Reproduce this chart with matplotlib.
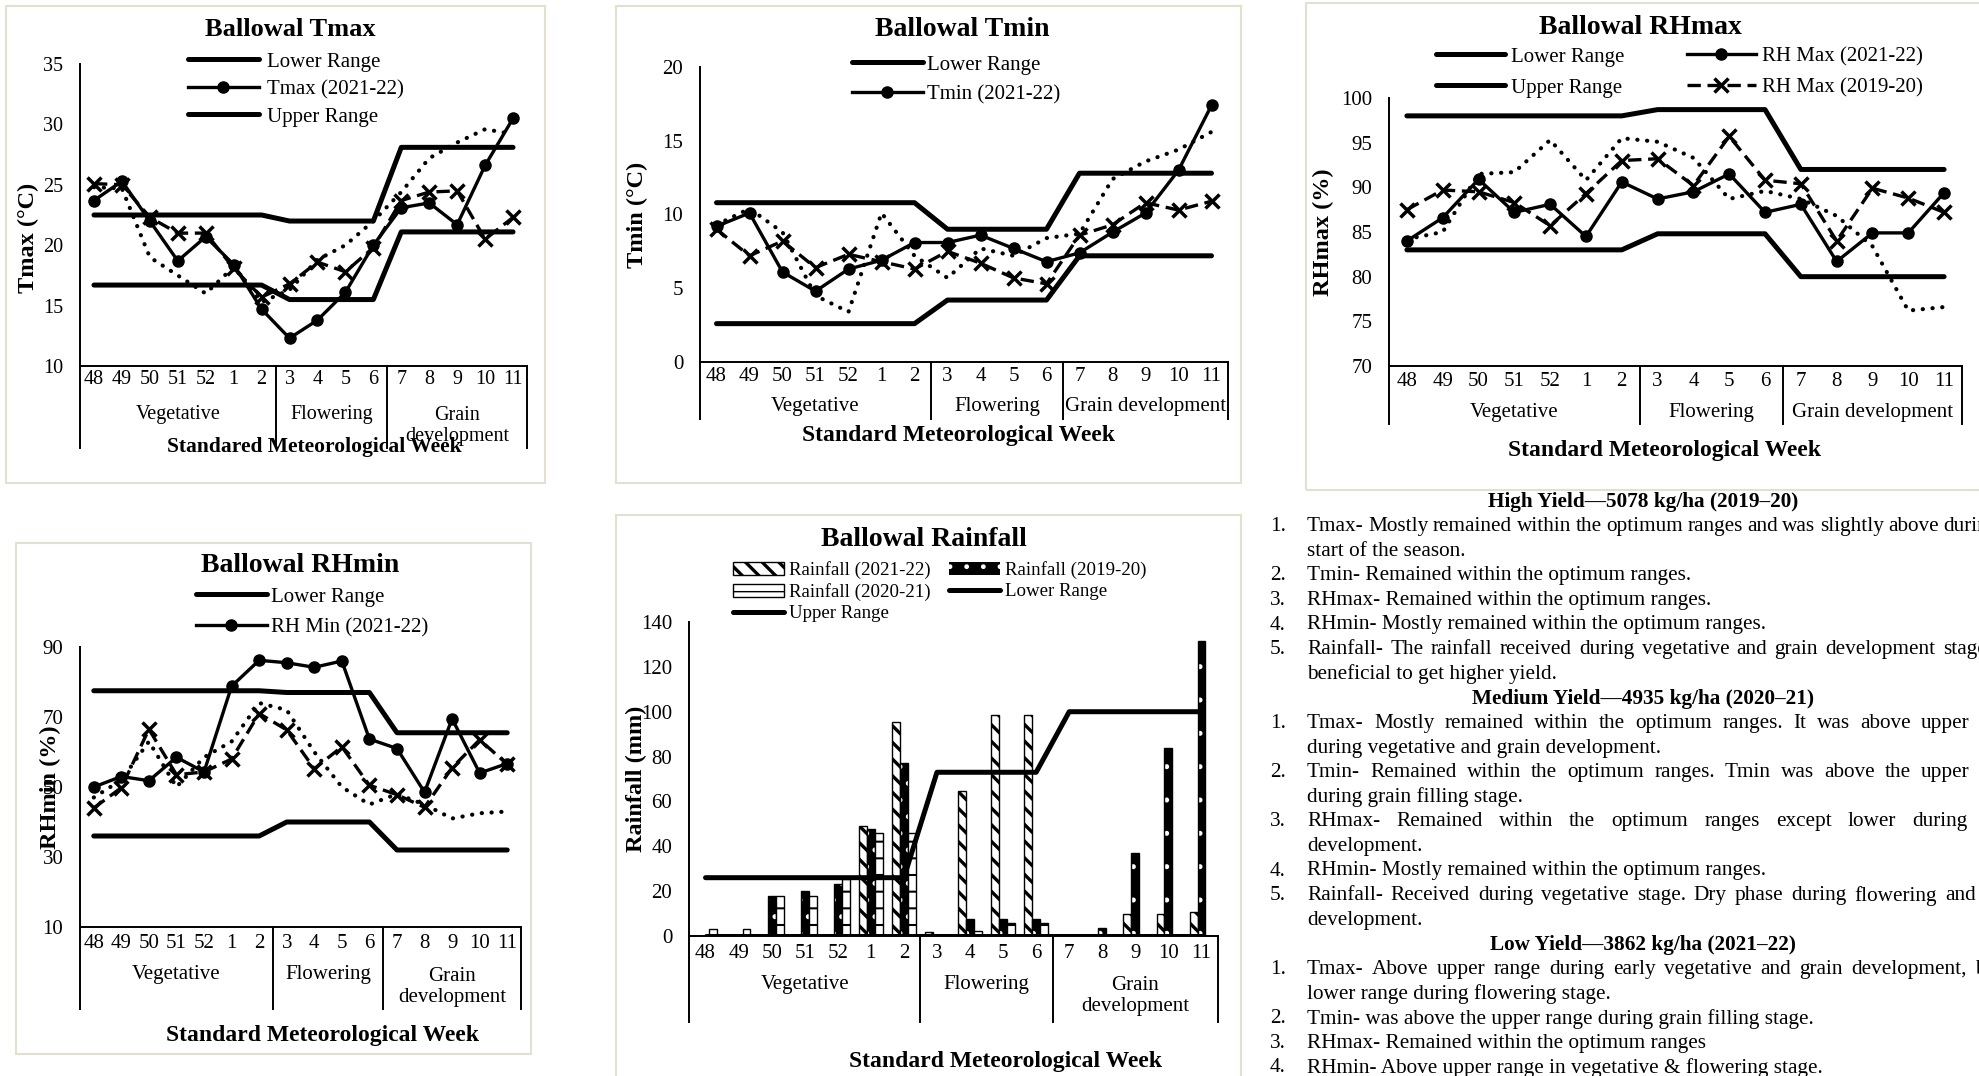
import matplotlib
matplotlib.use('Agg')
import matplotlib.pyplot as plt
from matplotlib.patches import Rectangle
import numpy as np

plt.rcParams['font.family'] = ['Liberation Serif', 'DejaVu Serif']
plt.rcParams['hatch.linewidth'] = 2.4

W, H = 1979, 1076

# ---------------- data ----------------
weeks = ['48', '49', '50', '51', '52', '1', '2', '3', '4', '5', '6', '7', '8', '9', '10', '11']
stages = ['Vegetative', 'Flowering', 'Grain development']
stage_spans = [(0, 6), (7, 10), (11, 15)]

tmax_2122 = [23.7, 25.3, 22.0, 18.7, 20.7, 18.4, 14.7, 12.3, 13.8, 16.1, 20.0, 23.1, 23.5, 21.7, 26.6, 30.5]
tmax_1920 = [25.1, 25.0, 22.3, 21.0, 21.0, 18.1, 15.7, 16.8, 18.6, 17.8, 19.8, 23.7, 24.4, 24.5, 20.5, 22.3]
tmax_2021 = [24.8, 24.7, 19.0, 17.5, 16.0, 18.2, 15.3, 16.3, 18.8, 20.0, 22.0, 24.4, 27.2, 28.5, 29.6, 29.2]
tmax_lower = [16.7, 16.7, 16.7, 16.7, 16.7, 16.7, 16.7, 15.5, 15.5, 15.5, 15.5, 21.1, 21.1, 21.1, 21.1, 21.1]
tmax_upper = [22.5, 22.5, 22.5, 22.5, 22.5, 22.5, 22.5, 22.0, 22.0, 22.0, 22.0, 28.1, 28.1, 28.1, 28.1, 28.1]

tmin_2122 = [9.2, 10.1, 6.1, 4.8, 6.3, 6.9, 8.1, 8.1, 8.6, 7.7, 6.8, 7.4, 8.8, 10.1, 13.0, 17.4]
tmin_1920 = [9.0, 7.2, 8.2, 6.4, 7.3, 6.8, 6.3, 7.5, 6.7, 5.7, 5.3, 8.6, 9.3, 10.8, 10.3, 10.9]
tmin_2021 = [9.3, 10.4, 8.8, 4.5, 3.4, 10.1, 7.2, 5.7, 7.7, 7.2, 8.4, 8.7, 12.4, 13.6, 14.4, 15.6]
tmin_lower = [2.6, 2.6, 2.6, 2.6, 2.6, 2.6, 2.6, 4.2, 4.2, 4.2, 4.2, 7.2, 7.2, 7.2, 7.2, 7.2]
tmin_upper = [10.8, 10.8, 10.8, 10.8, 10.8, 10.8, 10.8, 9.0, 9.0, 9.0, 9.0, 12.8, 12.8, 12.8, 12.8, 12.8]

rhmax_2122 = [84.0, 86.6, 90.9, 87.2, 88.1, 84.5, 90.6, 88.7, 89.5, 91.5, 87.2, 88.1, 81.7, 84.9, 84.9, 89.4]
rhmax_1920 = [87.5, 89.7, 89.5, 88.3, 85.7, 89.3, 93.0, 93.2, 90.2, 95.7, 90.8, 90.4, 84.0, 89.9, 88.8, 87.2]
rhmax_2021 = [84.2, 85.0, 91.5, 91.7, 95.3, 90.8, 95.5, 95.1, 93.3, 88.7, 89.6, 88.7, 86.8, 83.4, 76.2, 76.6]
rhmax_lower = [83.0, 83.0, 83.0, 83.0, 83.0, 83.0, 83.0, 84.8, 84.8, 84.8, 84.8, 80.0, 80.0, 80.0, 80.0, 80.0]
rhmax_upper = [98.0, 98.0, 98.0, 98.0, 98.0, 98.0, 98.0, 98.7, 98.7, 98.7, 98.7, 92.0, 92.0, 92.0, 92.0, 92.0]

rhmin_2122 = [50.0, 53.0, 51.8, 58.5, 54.3, 78.8, 86.2, 85.5, 84.2, 86.0, 63.7, 61.0, 48.5, 69.5, 54.0, 56.7]
rhmin_1920 = [44.0, 49.8, 66.5, 53.5, 54.3, 58.0, 71.0, 66.3, 55.2, 61.5, 50.5, 47.8, 44.2, 55.5, 63.5, 56.5]
rhmin_2021 = [47.0, 52.0, 63.0, 50.0, 58.5, 63.0, 74.0, 72.0, 60.0, 50.0, 45.0, 48.0, 45.0, 41.0, 42.5, 43.0]
rhmin_lower = [36.0, 36.0, 36.0, 36.0, 36.0, 36.0, 36.0, 40.0, 40.0, 40.0, 40.0, 32.0, 32.0, 32.0, 32.0, 32.0]
rhmin_upper = [77.5, 77.5, 77.5, 77.5, 77.5, 77.5, 77.5, 77.0, 77.0, 77.0, 77.0, 65.5, 65.5, 65.5, 65.5, 65.5]

rain_2122 = [0, 0, 0, 0, 0, 49.0, 95.3, 2.0, 64.7, 98.6, 98.6, 0, 0, 10.0, 10.0, 10.5]
rain_1920 = [0, 0, 17.7, 20.1, 23.3, 47.8, 77.2, 0, 7.6, 7.6, 7.6, 0, 3.5, 37.0, 83.7, 131.5]
rain_2021 = [3.2, 3.2, 17.7, 17.7, 25.3, 45.9, 45.9, 0, 2.4, 6.0, 6.0, 0, 0, 0, 0, 0]
rain_lower = [0, 0, 0, 0, 0, 0, 0, 0, 0, 0, 0, 0, 0, 0, 0, 0]
rain_upper = [26, 26, 26, 26, 26, 26, 26, 73, 73, 73, 73, 100, 100, 100, 100, 100]

notes = [
    (None, 'High Yield\u20145078 kg/ha (2019\u201320)', False),
    ('1.', 'Tmax- Mostly remained within the optimum ranges and was slightly above during the', True),
    ('', 'start of the season.', False),
    ('2.', 'Tmin- Remained within the optimum ranges.', False),
    ('3.', 'RHmax- Remained within the optimum ranges.', False),
    ('4.', 'RHmin- Mostly remained within the optimum ranges.', False),
    ('5.', 'Rainfall- The rainfall received during vegetative and grain development stage was', True),
    ('', 'beneficial to get higher yield.', False),
    (None, 'Medium Yield\u20144935 kg/ha (2020\u201321)', False),
    ('1.', 'Tmax- Mostly remained within the optimum ranges. It was above upper range', True),
    ('', 'during vegetative and grain development.', False),
    ('2.', 'Tmin- Remained within the optimum ranges. Tmin was above the upper range', True),
    ('', 'during grain filling stage.', False),
    ('3.', 'RHmax- Remained within the optimum ranges except lower during grain', True),
    ('', 'development.', False),
    ('4.', 'RHmin- Mostly remained within the optimum ranges.', False),
    ('5.', 'Rainfall- Received during vegetative stage. Dry phase during flowering and grain', True),
    ('', 'development.', False),
    (None, 'Low Yield\u20143862 kg/ha (2021\u201322)', False),
    ('1.', 'Tmax- Above upper range during early vegetative and grain development, below', True),
    ('', 'lower range during flowering stage.', False),
    ('2.', 'Tmin- was above the upper range during grain filling stage.', False),
    ('3.', 'RHmax- Remained within the optimum ranges', False),
    ('4.', 'RHmin- Above upper range in vegetative & flowering stage.', False),
]

x = np.arange(len(weeks))
fig = plt.figure(figsize=(W / 100, H / 100), dpi=100)


def fx(px):
    return px / W


def fy(py):
    return 1 - py / H


def frame(l, t, r, b):
    fig.patches.append(Rectangle((fx(l), fy(b)), fx(r - l), (b - t) / H, transform=fig.transFigure,
                                 fill=False, edgecolor='#e4e0d0', lw=1.5))


def make_axes(l, t, r, b):
    return fig.add_axes([fx(l), fy(b), fx(r - l), (b - t) / H])


def thin_hatch(patches, lw):
    for p in patches:
        if hasattr(p, 'set_hatch_linewidth'):
            p.set_hatch_linewidth(lw)


def category_table(ax, ylim, yticks, ylabel, ylab_dx, wk_dy, st_dy, tb_dy, two_line, fs=15, ylab_y=0.5):
    ax.set_xlim(-0.5, 15.5)
    ax.set_ylim(*ylim)
    ax.set_yticks(yticks)
    ax.set_xticks([])
    ax.spines['top'].set_visible(False)
    ax.spines['right'].set_visible(False)
    ax.spines['left'].set_linewidth(1.4)
    ax.spines['bottom'].set_linewidth(1.4)
    ax.tick_params(axis='y', length=0, pad=12, labelsize=fs)
    ax.set_ylabel(ylabel, fontsize=17.5, fontweight='bold', va='center')
    ax.yaxis.set_label_coords(-ylab_dx / ax.bbox.width, ylab_y)
    h = ax.bbox.height
    tr = ax.get_xaxis_transform()
    for i, wk in enumerate(weeks):
        ax.text(i, -wk_dy / h, wk, transform=tr, ha='center', va='center', fontsize=fs)
    for name, (a, b) in zip(stages, stage_spans):
        if two_line and name.startswith('Grain'):
            ax.text((a + b) / 2, -(st_dy + 12) / h, 'Grain\ndevelopment', transform=tr, ha='center',
                    va='center', fontsize=fs, linespacing=1.2)
        else:
            ax.text((a + b) / 2, -st_dy / h, name, transform=tr, ha='center', va='center', fontsize=fs)
    for bnd in [-0.5, 6.5, 10.5, 15.5]:
        ax.plot([bnd, bnd], [0, -tb_dy / h], transform=tr, color='black', lw=1.4, clip_on=False)


def range_lines(ax, lower, upper):
    l1, = ax.plot(x, lower, color='black', lw=3.6, solid_capstyle='round', zorder=2)
    l2, = ax.plot(x, upper, color='black', lw=3.6, solid_capstyle='round', zorder=2)
    return l1, l2


def series(ax, s2122, s1920, s2021):
    ax.plot(x, s2021, color='black', lw=3, linestyle=(0, (0.05, 2.3)), dash_capstyle='round', zorder=3)
    l19, = ax.plot(x, s1920, color='black', lw=2.4, dashes=(4, 2), marker='x', markersize=10, mew=2.5, zorder=3)
    l21, = ax.plot(x, s2122, color='black', lw=2.4, marker='o', markersize=8, zorder=4)
    return l21, l19


leg_kw = dict(loc='upper left', bbox_transform=fig.transFigure, frameon=False, borderpad=0, borderaxespad=0)

# ---------------- Tmax ----------------
frame(6, 6, 545, 483)
ax1 = make_axes(80, 64, 527, 366)
lo, up = range_lines(ax1, tmax_lower, tmax_upper)
s, _ = series(ax1, tmax_2122, tmax_1920, tmax_2021)
category_table(ax1, (10, 35), [10, 15, 20, 25, 30, 35], 'Tmax (\u00b0C)', 52, 13, 48, 82, True, fs=14.5,
               ylab_y=0.425)
ax1.legend([lo, s, up], ['Lower Range', 'Tmax (2021-22)', 'Upper Range'], bbox_to_anchor=(fx(188), fy(52)),
           handlelength=3.4, handletextpad=0.4, labelspacing=0.38, fontsize=15, **leg_kw)
fig.text(fx(290), fy(30), 'Ballowal Tmax', ha='center', va='center', fontsize=19, fontweight='bold')
fig.text(fx(314), fy(447), 'Standared Meteorological Week', ha='center', va='center', fontsize=15.5,
         fontweight='bold')

# ---------------- Tmin ----------------
frame(616, 6, 1241, 483)
ax2 = make_axes(700, 67, 1228, 362)
lo, up = range_lines(ax2, tmin_lower, tmin_upper)
s, _ = series(ax2, tmin_2122, tmin_1920, tmin_2021)
category_table(ax2, (0, 20), [0, 5, 10, 15, 20], 'Tmin (\u00b0C)', 63, 15, 45, 57, False)
ax2.legend([lo, s], ['Lower Range', 'Tmin (2021-22)'], bbox_to_anchor=(fx(852), fy(55)),
           handlelength=3.4, handletextpad=0.2, labelspacing=0.5, fontsize=15, **leg_kw)
fig.text(fx(962), fy(30), 'Ballowal Tmin', ha='center', va='center', fontsize=20, fontweight='bold')
fig.text(fx(958), fy(436), 'Standard Meteorological Week', ha='center', va='center', fontsize=17,
         fontweight='bold')

# ---------------- RHmax ----------------
frame(1306, 3, 1990, 490)
ax3 = make_axes(1389, 98, 1962, 366)
lo, up = range_lines(ax3, rhmax_lower, rhmax_upper)
s21, s19 = series(ax3, rhmax_2122, rhmax_1920, rhmax_2021)
category_table(ax3, (70, 100), [70, 75, 80, 85, 90, 95, 100], 'RHmax (%)', 66, 15, 47, 58, False)
ax3.legend([lo, up, s21, s19], ['Lower Range', 'Upper Range', 'RH Max (2021-22)', 'RH Max (2019-20)'],
           ncol=2, bbox_to_anchor=(fx(1436), fy(47)), handlelength=3.3, handletextpad=0.3,
           labelspacing=0.55, columnspacing=3.0, fontsize=15, **leg_kw)
fig.text(fx(1640), fy(28), 'Ballowal RHmax', ha='center', va='center', fontsize=20, fontweight='bold')
fig.text(fx(1665), fy(451), 'Standard Meteorological Week', ha='center', va='center', fontsize=17,
         fontweight='bold')

# ---------------- RHmin ----------------
frame(16, 543, 531, 1054)
ax4 = make_axes(80, 647, 521, 927)
lo, up = range_lines(ax4, rhmin_lower, rhmin_upper)
s, _ = series(ax4, rhmin_2122, rhmin_1920, rhmin_2021)
category_table(ax4, (10, 90), [10, 30, 50, 70, 90], 'RHmin (%)', 30, 16, 48, 82, True)
ax4.legend([lo, s], ['Lower Range', 'RH Min (2021-22)'], bbox_to_anchor=(fx(196), fy(587)),
           handlelength=3.4, handletextpad=0.2, labelspacing=0.55, fontsize=15, **leg_kw)
fig.text(fx(300), fy(565), 'Ballowal RHmin', ha='center', va='center', fontsize=20, fontweight='bold')
fig.text(fx(322), fy(1035), 'Standard Meteorological Week', ha='center', va='center', fontsize=17,
         fontweight='bold')

# ---------------- Rainfall ----------------
frame(616, 515, 1241, 1090)
ax5 = make_axes(689, 622, 1218, 936)
bw = 0.24
b21 = ax5.bar(x - bw, rain_2122, bw, facecolor='white', edgecolor='black', lw=1, hatch='\\\\', zorder=2)
b19 = ax5.bar(x, rain_1920, bw, facecolor='black', edgecolor='white', lw=0, hatch='.', zorder=2)
ax5.bar(x, rain_1920, bw, fill=False, edgecolor='black', lw=1, zorder=2)
b20 = ax5.bar(x + bw, rain_2021, bw, facecolor='white', edgecolor='black', lw=1, hatch='-', zorder=2)
thin_hatch(b19, 1.2)
thin_hatch(b20, 1.5)
lo, up = range_lines(ax5, rain_lower, rain_upper)
category_table(ax5, (0, 140), [0, 20, 40, 60, 80, 100, 120, 140], 'Rainfall (mm)', 53, 18, 48, 86, True)
with plt.rc_context({'hatch.linewidth': 1.0}):
    leg5 = ax5.legend([b21, b20, up, b19, lo],
                      ['Rainfall (2021-22)', 'Rainfall (2020-21)', 'Upper Range', 'Rainfall (2019-20)',
                       'Lower Range'],
                      ncol=2, bbox_to_anchor=(fx(733), fy(561)), handlelength=2.7, handletextpad=0.25,
                      labelspacing=0.22, columnspacing=1.0, fontsize=13.6, **leg_kw)
thin_hatch([leg5.legend_handles[0]], 2.4)
fig.text(fx(924), fy(539), 'Ballowal Rainfall', ha='center', va='center', fontsize=20, fontweight='bold')
fig.text(fx(1005), fy(1062), 'Standard Meteorological Week', ha='center', va='center', fontsize=17,
         fontweight='bold')

# ---------------- notes ----------------
renderer = fig.canvas.get_renderer()
num_x, txt_x, right_x = 1270, 1307, 2027
y0, dy = 502, 24.6
for i, (num, text, just) in enumerate(notes):
    yy = fy(y0 + dy * i)
    if num is None:
        fig.text(fx(1643), yy, text, ha='center', va='center', fontsize=15.3, fontweight='bold')
        continue
    if num:
        fig.text(fx(num_x), yy, num, ha='left', va='center', fontsize=15.3)
    if not just:
        fig.text(fx(txt_x), yy, text, ha='left', va='center', fontsize=15.3)
        continue
    words = text.split()
    objs = [fig.text(0, yy, w, ha='left', va='center', fontsize=15.3) for w in words]
    widths = [o.get_window_extent(renderer).width for o in objs]
    gap = max((right_x - txt_x - sum(widths)) / (len(words) - 1), 4.5)
    pos = txt_x
    for o, wdt in zip(objs, widths):
        o.set_x(fx(pos))
        pos += wdt + gap

fig.savefig('out.png', dpi=100)
